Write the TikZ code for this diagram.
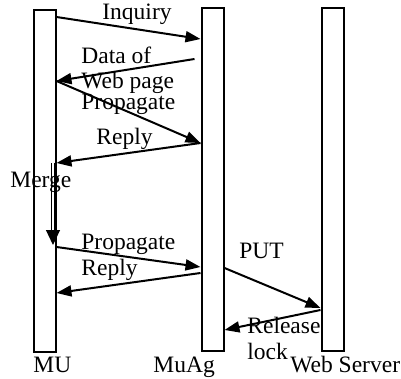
\documentclass[tikz,border=0pt]{standalone}
\usepackage{fontspec}
\setmainfont{Liberation Serif}
\usetikzlibrary{arrows.meta,calc}

\begin{document}
\begin{tikzpicture}[
    x=0.5pt, y=-0.5pt,
    bar/.style={draw, line width=1pt, minimum width=11pt, inner sep=0pt},
    msg/.style={-{Triangle[length=7.5pt,width=5.5pt]}, line width=1pt},
    merge/.style={-{Triangle[length=7.5pt,width=7pt]}, double, double distance=1pt, line width=0.6pt},
    lbl/.style={anchor=base west, inner sep=0pt, align=left, font=\fontsize{11.75}{12.75}\selectfont}
]
\useasboundingbox (0,0) rectangle (401,379);

\node[bar, minimum height=171pt] (mu) at (44.5,181) {};
\node[bar, minimum height=171.5pt] (muag) at (212.5,179.5) {};
\node[bar, minimum height=171.5pt] (ws) at (332.5,179.5) {};

\node[lbl] (mulbl) at (33,372) {MU};
\node[lbl] (muaglbl) at (153,372) {MuAg};
\node[lbl] (wslbl) at (290,372) {Web Server};

% MU <-> MuAg
\draw[msg] (mu.east |- 0,17) -- (muag.west |- 0,39);
\node[lbl] (inquiry) at (102,20) {Inquiry};
\draw[msg] ($(muag.west |- 0,59)+(-6,0)$) -- (mu.east |- 0,81);
\node[lbl] (data) at (81,89) {Data of\\Web page};
\draw[msg] (mu.east |- 0,81) -- (muag.west |- 0,143);
\node[lbl] (prop1) at (81,110) {Propagate};
\draw[msg] (muag.west |- 0,143) -- (mu.east |- 0,163);
\node[lbl] (reply1) at (96,145) {Reply};

\draw[merge] ($(mu.east |- 0,163)+(-3.5,0)$) -- ($(mu.east |- 0,245)+(-3.5,0)$);
\node[lbl] (mergelbl) at (10,188) {Merge};

\draw[msg] (mu.east |- 0,247) -- (muag.west |- 0,267);
\draw[msg] (muag.west |- 0,273) -- (mu.east |- 0,293);
\node[lbl] (prop2) at (81,275) {Propagate\\Reply};

% MuAg <-> Web Server
\draw[msg] (muag.east |- 0,268) -- (ws.west |- 0,308);
\node[lbl] (put) at (239,258) {PUT};
\draw[msg] (ws.west |- 0,310) -- (muag.east |- 0,330);
\node[lbl] (release) at (247,359) {Release\\lock};

\end{tikzpicture}
\end{document}
